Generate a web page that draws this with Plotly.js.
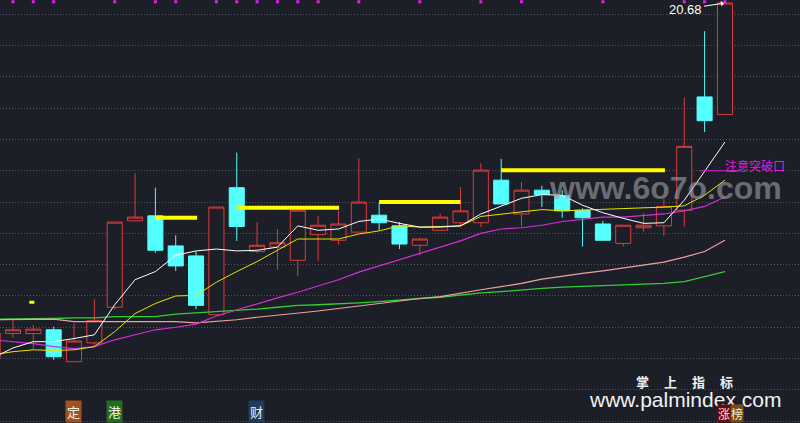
<!DOCTYPE html>
<html><head><meta charset="utf-8">
<script src="https://cdn.plot.ly/plotly-3.0.1.min.js"></script>
<style>html,body{margin:0;padding:0;background:#1c1f27;}#chart{width:800px;height:423px;}</style>
</head><body><div id="chart"></div>
<script>
// trading-day index (day -1 is only partly visible at the left edge)
const days = [-1,0,1,2,3,4,5,6,7,8,9,10,11,12,13,14,15,16,17,18,19,20,21,22,23,24,25,26,27,28,29,30,31,32,33,34,35];
const openP  = [15.01,15.40,15.40,15.46,14.95,15.25,15.82,17.20,17.28,16.80,16.64,15.70,17.73,16.71,16.78,16.57,16.98,16.89,17.02,17.29,17.12,16.81,17.05,17.17,17.17,17.85,17.31,17.69,17.60,17.37,17.15,16.84,17.09,17.12,17.37,19.18,18.90];
const highP  = [15.41,15.62,15.54,15.51,15.56,15.95,17.18,17.96,17.73,16.97,16.71,17.42,18.29,17.18,17.07,17.37,17.28,17.36,18.20,17.48,17.18,16.93,17.31,17.74,18.12,18.19,17.82,17.76,17.69,17.40,17.20,17.13,17.32,17.55,19.17,20.23,20.68];
const lowP   = [15.01,15.33,15.14,14.98,14.95,15.19,15.78,17.20,16.69,16.40,15.79,15.70,16.88,16.68,16.42,16.32,16.56,16.82,17.02,17.05,16.75,16.65,17.05,17.10,17.10,17.47,17.11,17.42,17.25,16.79,16.89,16.79,17.03,16.96,17.11,18.62,18.90];
const closeP = [15.41,15.46,15.47,15.03,15.28,15.61,17.18,17.26,16.73,16.48,15.85,17.42,17.11,16.81,16.85,17.37,17.13,17.15,17.50,17.17,16.83,16.91,17.26,17.36,18.01,17.47,17.69,17.62,17.36,17.25,16.89,17.13,17.13,17.43,18.39,18.80,20.68];

// moving-average lines
const maWhite   = [15.01,15.17,15.27,15.27,15.32,15.38,15.86,16.26,16.39,16.65,16.72,16.75,16.72,16.73,16.78,17.12,17.05,17.07,17.19,17.23,17.16,17.10,17.10,17.12,17.31,17.43,17.56,17.62,17.61,17.45,17.33,17.24,17.16,17.17,17.53,17.99,18.46];
const maYellow  = [15.06,15.11,15.14,15.13,15.14,15.19,15.43,15.72,15.88,16.00,16.01,16.22,16.39,16.55,16.73,16.91,16.91,16.91,16.99,17.04,17.12,17.10,17.11,17.12,17.27,17.31,17.35,17.38,17.36,17.37,17.38,17.40,17.40,17.42,17.44,17.61,17.85];
const maMagenta = [15.30,15.27,15.24,15.19,15.16,15.19,15.30,15.38,15.46,15.50,15.55,15.68,15.78,15.87,15.97,16.06,16.16,16.26,16.38,16.48,16.58,16.68,16.79,16.88,17.00,17.07,17.09,17.13,17.19,17.23,17.26,17.26,17.28,17.31,17.36,17.43,17.58];
const maPink    = [15.62,15.62,15.62,15.63,15.59,15.59,15.59,15.59,15.59,15.59,15.57,15.59,15.62,15.66,15.69,15.73,15.76,15.80,15.84,15.88,15.93,15.96,15.99,16.05,16.10,16.15,16.20,16.27,16.32,16.36,16.40,16.45,16.50,16.54,16.62,16.71,16.89];
const maGreen   = [15.63,15.63,15.63,15.64,15.65,15.65,15.67,15.67,15.67,15.71,15.73,15.74,15.77,15.79,15.82,15.85,15.86,15.87,15.89,15.91,15.94,15.96,15.98,16.02,16.05,16.07,16.10,16.12,16.14,16.15,16.16,16.18,16.19,16.20,16.23,16.31,16.39];

// thick yellow resistance segments
const segStart = [0.8, 7, 11, 18, 24];
const segEnd   = [1.05, 9.05, 16.03, 22, 32.05];
const segLevel = [15.90, 17.25, 17.41, 17.50, 18.01];
const segWidth = [3, 4, 4, 4, 4];

// magenta signal marks along the top edge
const markDays = [0,1,2,5,7,8,10,11,12,13,14,15,17,20,23,25,29,33,34,35];
const markLevel = 20.70;

// breakout note
const noteText = '注意突破口';
const noteLineX = [33.75, 35.75];
const noteLevel = 18.00;
const highLabel = '20.68';

// bottom event tags
const tagDays = [2.98, 5.01, 11.98];
const tagText = ['定','港','财'];
const tagBg   = ['#a3521f','#1f6f1f','#1d3d5e'];

const BG = '#1c1f27';
const traces = [];
traces.push({
  type:'candlestick', x:days, open:openP, high:highP, low:lowP, close:closeP,
  increasing:{line:{color:'#dc3c3c', width:1}, fillcolor:BG},
  decreasing:{line:{color:'#54ffff', width:1}, fillcolor:'#54ffff'},
  whiskerwidth:0, hoverinfo:'skip'
});
const lineSpec = [
  [maGreen,'#2fd02f',1.3],
  [maPink,'#eea0a0',1.2],
  [maMagenta,'#d52fd5',1.2],
  [maYellow,'#e6e600',1],
  [maWhite,'#ffffff',1]
];
lineSpec.forEach(([vals,col,w])=>{
  traces.push({type:'scatter', mode:'lines', x:days, y:vals, line:{color:col,width:w}, hoverinfo:'skip'});
});
segStart.forEach((s,k)=>{
  traces.push({type:'scatter', mode:'lines', x:[s,segEnd[k]], y:[segLevel[k],segLevel[k]], line:{color:'#ffff00',width:segWidth[k]}, hoverinfo:'skip'});
});
traces.push({type:'scatter', mode:'lines', x:noteLineX, y:[noteLevel,noteLevel], line:{color:'#e020e0',width:1}, hoverinfo:'skip'});
traces.push({type:'scatter', mode:'markers', x:markDays, y:markDays.map(()=>markLevel),
  marker:{symbol:'square', size:3, color:'#e81ee8', line:{width:0}}, hoverinfo:'skip', cliponaxis:false});

const cjk = '"Noto Sans CJK SC", sans-serif';
const lat = '"Liberation Sans", Arial, sans-serif';
const annotations = [];
function paperNote(px, py, text, font, extra){
  annotations.push(Object.assign({x:px/800, y:1-py/423, xref:'paper', yref:'paper', text:text, showarrow:false,
    xanchor:'center', yanchor:'middle', font:font}, extra||{}));
}
annotations.push({x:35, y:20.68, xref:'x', yref:'y', text:highLabel, showarrow:true, ax:-39, ay:6,
  arrowcolor:'#ffffff', arrowwidth:1, arrowhead:1, arrowsize:1, standoff:1,
  font:{family:lat, size:13, color:'#ffffff'}});
annotations.push({x:35, y:18.08, xref:'x', yref:'y', text:noteText, showarrow:false, xanchor:'left', yanchor:'middle', xshift:-2,
  font:{family:cjk, size:12, color:'#e020e0'}});
paperNote(665, 188, '<b>www.6o7o.com</b>', {family:lat, size:32, color:'rgba(160,162,168,0.6)'});
['掌','上','指','标'].forEach((c,k)=>{
  paperNote(642.3+28*k, 381, '<b>'+c+'</b>', {family:cjk, size:13, color:'#f2f2f2'}, {borderpad:0});
});
paperNote(684.5, 399, 'www.palmindex.com', {family:lat, size:21, color:'#f2f2f2'}, {borderpad:0});
paperNote(724, 413, '涨', {family:cjk, size:12, color:'#f4dede'}, {bgcolor:'#6e0808', borderpad:0});
paperNote(736.5, 413, '榜', {family:cjk, size:12, color:'#f6ecd2'}, {bgcolor:'#7a4a12', borderpad:0});
tagDays.forEach((d,k)=>{
  annotations.push({x:d, y:1-411.5/423, xref:'x', yref:'paper', text:tagText[k], showarrow:false,
    xanchor:'center', yanchor:'middle', bgcolor:tagBg[k], borderpad:1,
    font:{family:cjk, size:13, color:'#f4f0e8'}});
});

const layout = {
  width:800, height:423, margin:{l:0,r:0,t:0,b:0},
  paper_bgcolor:BG, plot_bgcolor:BG, showlegend:false,
  boxgap:0.26, boxgroupgap:0,
  xaxis:{range:[-0.639,38.69], showgrid:false, zeroline:false, showticklabels:false, ticks:'',
    rangeslider:{visible:false}, showline:true, linecolor:'#3c3f47', linewidth:1, mirror:false},
  yaxis:{range:[13.971,20.728], tick0:0, dtick:0.5, showgrid:true, gridcolor:'#50535b', gridwidth:1, griddash:'1px,2px',
    showticklabels:false, zeroline:false, ticks:''},
  annotations:annotations
};
Plotly.newPlot('chart', traces, layout, {staticPlot:true, displayModeBar:false});
</script>
</body></html>
